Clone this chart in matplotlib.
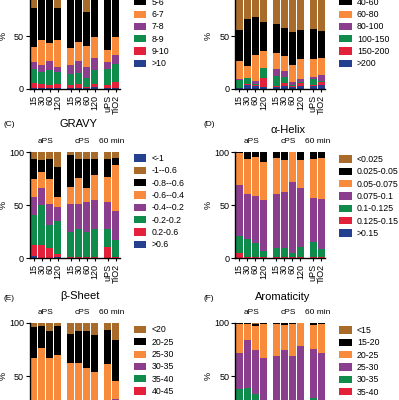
import numpy as np
from matplotlib import pyplot as plt

plt.rcParams['font.family'] = ['Liberation Sans', 'DejaVu Sans']

BLUE = '#24408e'
RED = '#e3213b'
GREEN = '#0f8c4b'
PURPLE = '#8b3d8e'
ORANGE = '#f78b3b'
BLACK = '#000000'
BROWN = '#a86b29'

bar_names = ['15', '30', '60', '120', '15', '30', '60', '120', 'uPS', 'TiO2']
group_names = ['aPS', 'cPS', '60 min']
group_sizes = [4, 4, 2]

# (A) pI, bottom of stack first
pi_labels = ['>10', '9-10', '8-9', '7-8', '6-7', '5-6', '<5']
pi_gt10 = [0.5, 0.5, 0.5, 0.5, 0.5, 0.5, 0.5, 2, 0.5, 1]
pi_9_10 = [5, 4.5, 3.5, 4.5, 3.5, 4.5, 1.5, 2.5, 3.5, 6]
pi_8_9 = [13, 11.5, 14, 11.5, 10.5, 10.5, 8, 13.5, 14.5, 17]
pi_7_8 = [7, 6, 8.5, 4.5, 8, 10.5, 10.5, 11, 7, 8]
pi_6_7 = [14.5, 23.5, 17, 25.5, 16.5, 18.5, 20, 20, 11.5, 17.5]
pi_5_6 = [36, 42, 43.5, 29.5, 49, 45.5, 32.5, 41, 53, 40.5]
pi_lt5 = [24, 12, 13, 24, 12, 10, 27, 10, 10, 10]

# (B) length
len_labels = ['>200', '150-200', '100-150', '80-100', '60-80', '40-60', '<40']
len_gt200 = [0.5, 4, 3, 2, 2, 2.5, 2, 3, 3, 4]
len_150_200 = [0, 0.5, 0.5, 8, 0.5, 3, 1, 2.5, 0.5, 3]
len_100_150 = [8.2, 5.5, 1, 9.5, 10, 6, 1, 1, 6, 1]
len_80_100 = [0.3, 0.5, 3, 0.5, 6, 5.5, 2.5, 3, 1.5, 5]
len_60_80 = [17.5, 11, 24.5, 16, 15, 14, 16.5, 18.5, 17, 16]
len_40_60 = [29.5, 45, 36, 27, 28, 27, 31, 28, 29, 26]
len_lt40 = [44, 33.5, 32, 37, 38.5, 42, 46, 44, 43, 45]

# (C) GRAVY
gravy_labels = ['>0.6', '0.2-0.6', '-0.2-0.2', '-0.4--0.2', '-0.6--0.4',
                '-0.8--0.6', '-1--0.6', '<-1']
gravy_gt06 = [2.5, 0.5, 0.5, 1.5, 0.3, 0.3, 0.3, 0.3, 0.3, 0.3]
gravy_02_06 = [10.5, 12, 9.5, 2.3, 1.3, 1.3, 1, 1.3, 10.7, 0.7]
gravy_m02_02 = [28, 37.5, 21.4, 31.2, 23.4, 26.4, 23.2, 26.4, 17, 16.3]
gravy_m04_m02 = [17, 16, 19.6, 13.7, 26, 23, 28.3, 27, 25.5, 27.3]
gravy_m06_m04 = [16.5, 15.8, 24, 9.3, 16.6, 24.5, 13.9, 23.6, 23.5, 43.4]
gravy_m08_m06 = [19.5, 11, 18.7, 28.5, 29.9, 18.5, 27.3, 15.4, 16.7, 6.3]
gravy_m1_m06 = [6, 7.2, 6.3, 13.5, 2.5, 6, 6, 6, 6.3, 5.7]
gravy_ltm1 = [0, 0, 0, 0, 0, 0, 0, 0, 0, 0]

# (D) alpha helix
helix_labels = ['>0.15', '0.125-0.15', '0.1-0.125', '0.075-0.1', '0.05-0.075',
                '0.025-0.05', '<0.025']
helix_gt015 = [0.5, 0.3, 0.3, 0.3, 0.3, 0.3, 0.3, 0.3, 0.3, 0.3]
helix_0125_015 = [4.2, 0.7, 0.7, 1.3, 0.5, 0.5, 0.5, 0.5, 1.3, 0.5]
helix_01_0125 = [16.3, 17, 13, 5.4, 8.6, 9.2, 3.9, 10.2, 13.4, 8]
helix_0075_01 = [48.4, 43, 44.4, 47.7, 51.6, 52.5, 67.3, 55.7, 41.6, 47.2]
helix_005_0075 = [30, 33, 36.9, 36.3, 33.3, 30, 28, 26, 37.1, 39]
helix_0025_005 = [0.6, 6, 4.7, 9, 5.7, 7.5, 0, 7.3, 6.3, 5]
helix_lt0025 = [0, 0, 0, 0, 0, 0, 0, 0, 0, 0]

# (E) beta sheet
sheet_labels = ['>45', '40-45', '35-40', '30-35', '25-30', '20-25', '<20']
sheet_gt45 = [1, 1, 1, 1, 1, 1, 1, 1, 1, 1]
sheet_40_45 = [3, 3, 3, 3, 3, 3, 3, 3, 3, 3]
sheet_35_40 = [6, 6, 6, 6, 6, 6, 6, 6, 6, 6]
sheet_30_35 = [14, 13, 15, 14, 16, 15, 16, 17, 15, 18]
sheet_25_30 = [42.8, 53.3, 41.8, 46, 36.7, 37.7, 31.3, 27, 36.4, 17.3]
sheet_20_25 = [29.4, 21.2, 25.2, 26.8, 27.3, 29.3, 34.7, 35, 31.6, 38.7]
sheet_lt20 = [3.8, 2.5, 8, 3.2, 10, 8, 8, 11, 7, 16]

# (F) aromaticity
arom_labels = ['>40', '35-40', '30-35', '25-30', '20-25', '15-20', '<15']
arom_gt40 = [1, 1, 1, 1, 1, 1, 1, 1, 1, 1]
arom_35_40 = [4, 4, 4, 4, 4, 4, 4, 4, 4, 4]
arom_30_35 = [32.3, 34, 28, 19, 19, 19, 19, 19, 24.7, 19]
arom_25_30 = [34.7, 44.5, 42, 42.8, 44.4, 50.7, 44.4, 54.5, 45.6, 48]
arom_20_25 = [27.4, 15.9, 22.5, 32.6, 30.9, 23.7, 31, 21.1, 23.1, 27.4]
arom_15_20 = [0.3, 0.3, 1.9, 0.3, 0.4, 1.3, 0.3, 0.2, 1.3, 0.3]
arom_lt15 = [0.3, 0.3, 0.6, 0.3, 0.3, 0.3, 0.3, 0.2, 0.3, 0.3]

colors7 = [BLUE, RED, GREEN, PURPLE, ORANGE, BLACK, BROWN]
colors8 = colors7 + [BLUE]

W, H = 399, 400
fig = plt.figure(figsize=(W / 100, H / 100), dpi=100)


def bar_positions(sizes, gap=0.57):
    pos = []
    x = 0.
    for n in sizes:
        for _ in range(n):
            pos.append(x)
            x += 1
        x += gap
    return np.array(pos)


xpos = bar_positions(group_sizes)


def fx(x):
    return x / W


def fy(y):
    return 1 - y / H


def panel(left, zero, series, labels, colors, legend_top, groups=True):
    ax = fig.add_axes([fx(left), fy(zero), 90 / W, 106 / H])
    bottom = np.zeros(len(xpos))
    handles = []
    for vals, col in zip(series, colors):
        b = ax.bar(xpos, vals, 0.86, bottom=bottom, color=col, linewidth=0)
        bottom += np.array(vals)
        handles.append(b)
    ax.set_xlim(-0.5, xpos[-1] + 0.46)
    ax.set_ylim(0, 100)
    ax.set_yticks([0, 50, 100])
    ax.set_xticks(xpos)
    ax.set_xticklabels(bar_names, rotation=90, fontsize=6.5)
    ax.tick_params(axis='y', labelsize=6.5, length=3, width=0.8, pad=1)
    ax.tick_params(axis='x', length=2.5, width=0.8, pad=1.5)
    ax.spines['top'].set_visible(False)
    ax.spines['right'].set_visible(False)
    ax.spines['left'].set_linewidth(1.0)
    ax.spines['bottom'].set_linewidth(1.0)
    ax.set_ylabel('%', fontsize=6.5, labelpad=1)
    if groups:
        start = 0
        for name, n in zip(group_names, group_sizes):
            xc = xpos[start:start + n].mean()
            ax.text(xc, 1.1, name, transform=ax.get_xaxis_transform(),
                    ha='center', va='center', fontsize=6)
            start += n
    ax.legend(handles[::-1], labels[::-1], loc='upper left',
              bbox_to_anchor=(fx(left + 104), fy(legend_top)),
              bbox_transform=fig.transFigure, frameon=False, fontsize=6.3,
              borderpad=0, borderaxespad=0, labelspacing=0.38,
              handlelength=1.45, handleheight=0.9, handletextpad=0.6)
    return ax


panel(29.5, 89, [pi_gt10, pi_9_10, pi_8_9, pi_7_8, pi_6_7, pi_5_6, pi_lt5],
      pi_labels, colors7, -14.5, groups=False)
panel(235, 89, [len_gt200, len_150_200, len_100_150, len_80_100, len_60_80,
                len_40_60, len_lt40],
      len_labels, colors7, -14.5, groups=False)
panel(29.5, 258.3, [gravy_gt06, gravy_02_06, gravy_m02_02, gravy_m04_m02,
                    gravy_m06_m04, gravy_m08_m06, gravy_m1_m06, gravy_ltm1],
      gravy_labels, colors8, 154)
panel(235, 258.3, [helix_gt015, helix_0125_015, helix_01_0125, helix_0075_01,
                   helix_005_0075, helix_0025_005, helix_lt0025],
      helix_labels, colors7, 155)
panel(29.5, 429, [sheet_gt45, sheet_40_45, sheet_35_40, sheet_30_35,
                  sheet_25_30, sheet_20_25, sheet_lt20],
      sheet_labels, colors7, 325.5)
panel(235, 429, [arom_gt40, arom_35_40, arom_30_35, arom_25_30, arom_20_25,
                 arom_15_20, arom_lt15],
      arom_labels, colors7, 326)

# panel titles and letters
fig.text(fx(78), fy(124), 'GRAVY', ha='center', va='center', fontsize=8)
fig.text(fx(288), fy(130), '\u03b1-Helix', ha='center', va='center', fontsize=8)
fig.text(fx(80), fy(296), '\u03b2-Sheet', ha='center', va='center', fontsize=8)
fig.text(fx(283), fy(296.5), 'Aromaticity', ha='center', va='center', fontsize=8)
fig.text(fx(3), fy(125), '(C)', ha='left', va='center', fontsize=6)
fig.text(fx(203), fy(125), '(D)', ha='left', va='center', fontsize=6)
fig.text(fx(3), fy(298), '(E)', ha='left', va='center', fontsize=6)
fig.text(fx(204), fy(299), '(F)', ha='left', va='center', fontsize=6)

fig.savefig('out.png', dpi=100)
